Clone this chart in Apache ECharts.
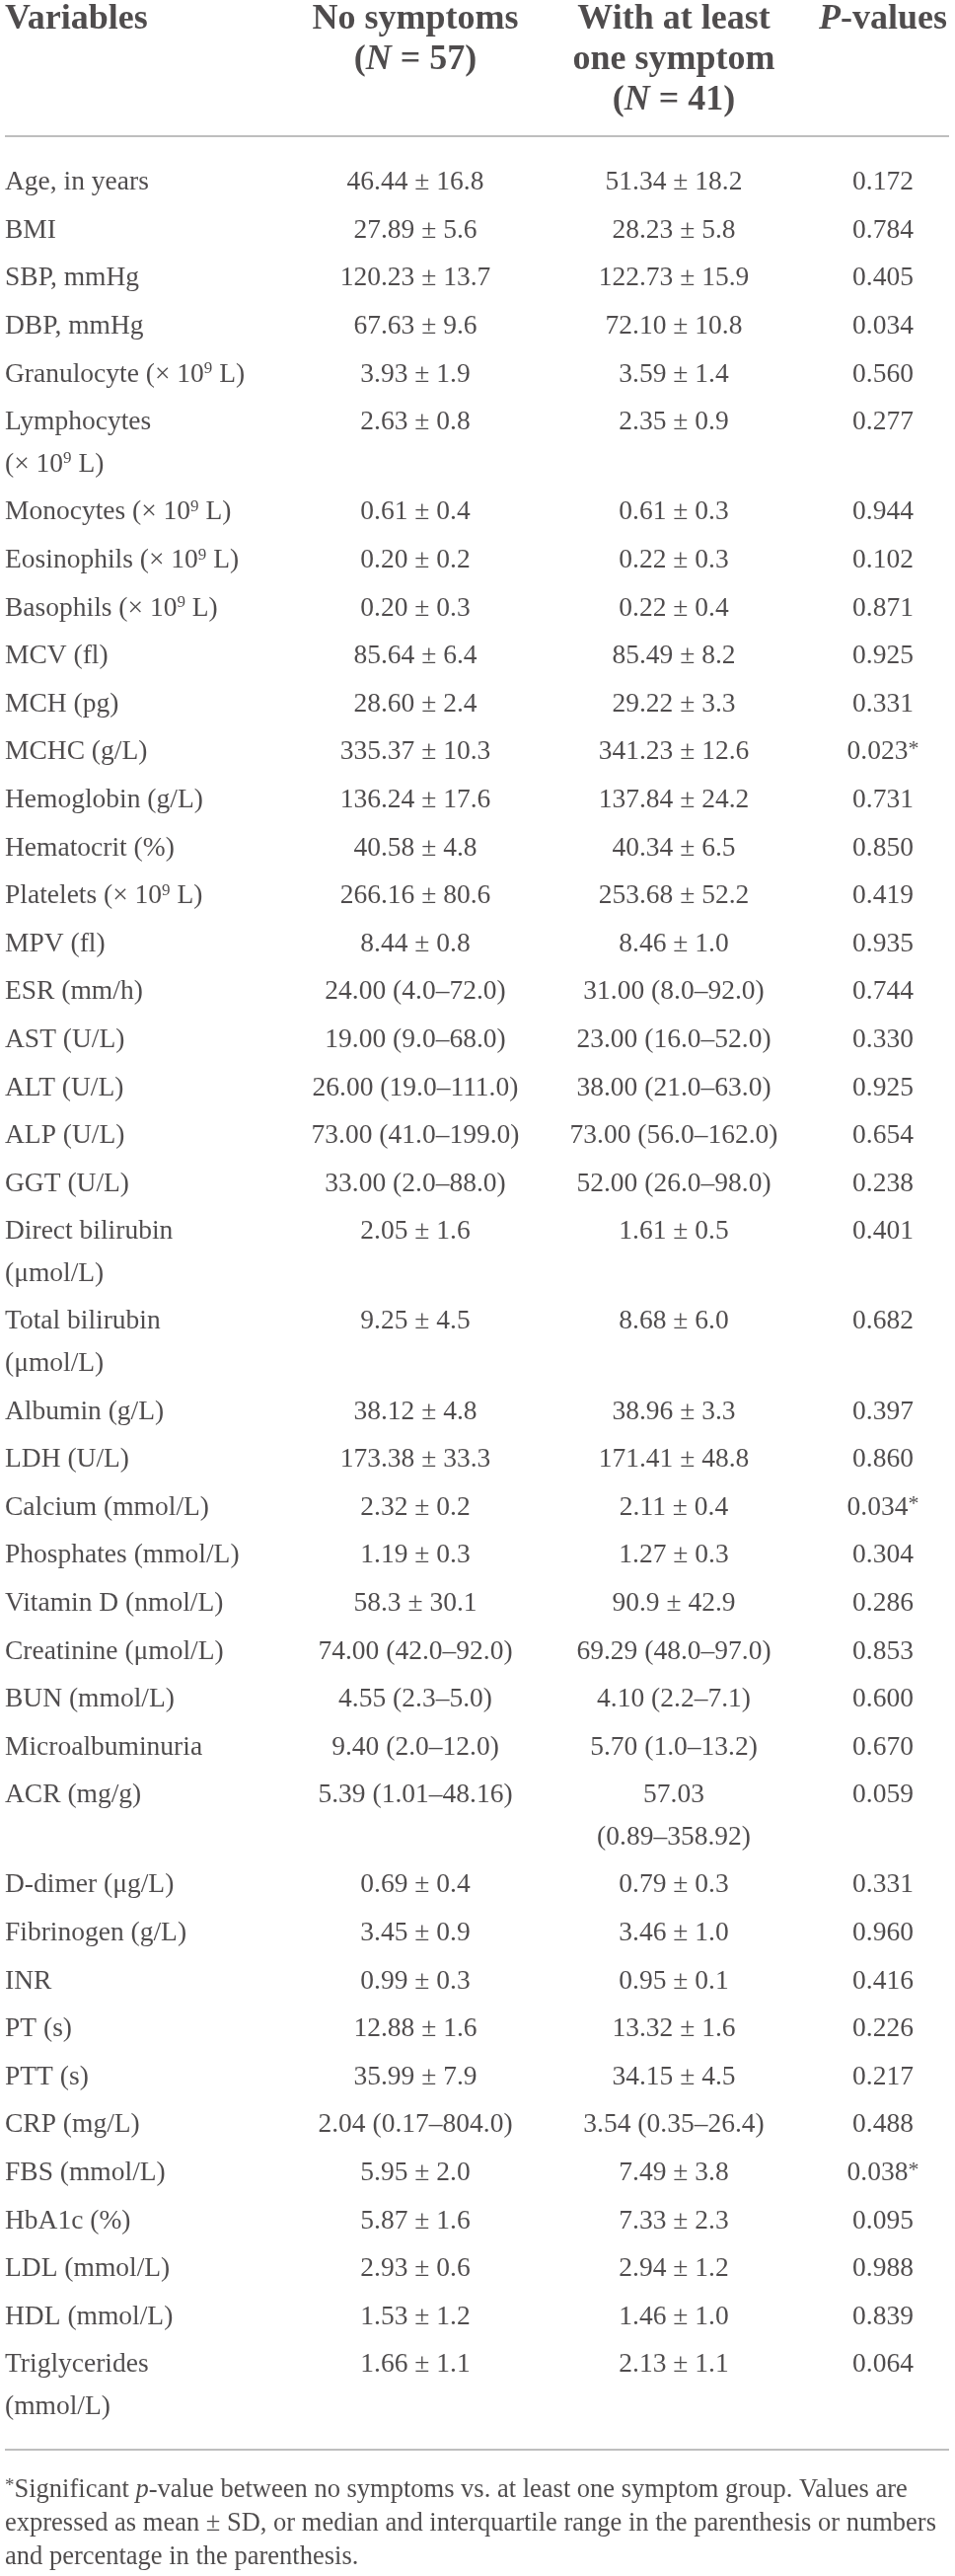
<!DOCTYPE html>
<html>
<head>
<meta charset="utf-8">
<script src="https://cdn.jsdelivr.net/npm/echarts@6/dist/echarts.min.js"></script>
<style>
  html, body { margin: 0; padding: 0; background: #fff; }
  #table-chart { width: 968px; height: 2610px; }
</style>
</head>
<body>
<div id="table-chart"></div>
<script>
// column headers ({ni|..} / {pi|..} = italic bold)
var headers = [
  "Variables",
  "No symptoms\n({ni|N} = 57)",
  "With at least\none symptom\n({ni|N} = 41)",
  "{pi|P}-values",
];

var variables = [
  "Age, in years",
  "BMI",
  "SBP, mmHg",
  "DBP, mmHg",
  "Granulocyte (× 10{sup|9} L)",
  "Lymphocytes\n(× 10{sup|9} L)",
  "Monocytes (× 10{sup|9} L)",
  "Eosinophils (× 10{sup|9} L)",
  "Basophils (× 10{sup|9} L)",
  "MCV (fl)",
  "MCH (pg)",
  "MCHC (g/L)",
  "Hemoglobin (g/L)",
  "Hematocrit (%)",
  "Platelets (× 10{sup|9} L)",
  "MPV (fl)",
  "ESR (mm/h)",
  "AST (U/L)",
  "ALT (U/L)",
  "ALP (U/L)",
  "GGT (U/L)",
  "Direct bilirubin\n(μmol/L)",
  "Total bilirubin\n(μmol/L)",
  "Albumin (g/L)",
  "LDH (U/L)",
  "Calcium (mmol/L)",
  "Phosphates (mmol/L)",
  "Vitamin D (nmol/L)",
  "Creatinine (μmol/L)",
  "BUN (mmol/L)",
  "Microalbuminuria",
  "ACR (mg/g)",
  "D-dimer (μg/L)",
  "Fibrinogen (g/L)",
  "INR",
  "PT (s)",
  "PTT (s)",
  "CRP (mg/L)",
  "FBS (mmol/L)",
  "HbA1c (%)",
  "LDL (mmol/L)",
  "HDL (mmol/L)",
  "Triglycerides\n(mmol/L)",
];

var noSymptoms = [
  "46.44 ± 16.8", "27.89 ± 5.6", "120.23 ± 13.7", "67.63 ± 9.6", "3.93 ± 1.9",
  "2.63 ± 0.8", "0.61 ± 0.4", "0.20 ± 0.2", "0.20 ± 0.3", "85.64 ± 6.4",
  "28.60 ± 2.4", "335.37 ± 10.3", "136.24 ± 17.6", "40.58 ± 4.8", "266.16 ± 80.6",
  "8.44 ± 0.8", "24.00 (4.0–72.0)", "19.00 (9.0–68.0)", "26.00 (19.0–111.0)", "73.00 (41.0–199.0)",
  "33.00 (2.0–88.0)", "2.05 ± 1.6", "9.25 ± 4.5", "38.12 ± 4.8", "173.38 ± 33.3",
  "2.32 ± 0.2", "1.19 ± 0.3", "58.3 ± 30.1", "74.00 (42.0–92.0)", "4.55 (2.3–5.0)",
  "9.40 (2.0–12.0)", "5.39 (1.01–48.16)", "0.69 ± 0.4", "3.45 ± 0.9", "0.99 ± 0.3",
  "12.88 ± 1.6", "35.99 ± 7.9", "2.04 (0.17–804.0)", "5.95 ± 2.0", "5.87 ± 1.6",
  "2.93 ± 0.6", "1.53 ± 1.2", "1.66 ± 1.1",
];

var withSymptom = [
  "51.34 ± 18.2", "28.23 ± 5.8", "122.73 ± 15.9", "72.10 ± 10.8", "3.59 ± 1.4",
  "2.35 ± 0.9", "0.61 ± 0.3", "0.22 ± 0.3", "0.22 ± 0.4", "85.49 ± 8.2",
  "29.22 ± 3.3", "341.23 ± 12.6", "137.84 ± 24.2", "40.34 ± 6.5", "253.68 ± 52.2",
  "8.46 ± 1.0", "31.00 (8.0–92.0)", "23.00 (16.0–52.0)", "38.00 (21.0–63.0)", "73.00 (56.0–162.0)",
  "52.00 (26.0–98.0)", "1.61 ± 0.5", "8.68 ± 6.0", "38.96 ± 3.3", "171.41 ± 48.8",
  "2.11 ± 0.4", "1.27 ± 0.3", "90.9 ± 42.9", "69.29 (48.0–97.0)", "4.10 (2.2–7.1)",
  "5.70 (1.0–13.2)", "57.03\n(0.89–358.92)", "0.79 ± 0.3", "3.46 ± 1.0", "0.95 ± 0.1",
  "13.32 ± 1.6", "34.15 ± 4.5", "3.54 (0.35–26.4)", "7.49 ± 3.8", "7.33 ± 2.3",
  "2.94 ± 1.2", "1.46 ± 1.0", "2.13 ± 1.1",
];

var pValues = [
  "0.172", "0.784", "0.405", "0.034", "0.560",
  "0.277", "0.944", "0.102", "0.871", "0.925",
  "0.331", "0.023{ast|*}", "0.731", "0.850", "0.419",
  "0.935", "0.744", "0.330", "0.925", "0.654",
  "0.238", "0.401", "0.682", "0.397", "0.860",
  "0.034{ast|*}", "0.304", "0.286", "0.853", "0.600",
  "0.670", "0.059", "0.331", "0.960", "0.416",
  "0.226", "0.217", "0.488", "0.038{ast|*}", "0.095",
  "0.988", "0.839", "0.064",
];

var footnote = [
  "{ast|*}Significant {it|p}-value between no symptoms vs. at least one symptom group. Values are",
  "expressed as mean ± SD, or median and interquartile range in the parenthesis or numbers",
  "and percentage in the parenthesis.",
];

// layout / style
var INK = "#231f20";
var RULE = "#a9a9a9";
var SERIF = '"Liberation Serif", "Times New Roman", serif';
var colX = [5, 421, 683, 895];
var colAlign = ["left", "center", "center", "center"];
var headTop = 20, headLine = 41;
var bodyTop = 185, rowStep = 48.6, subLine = 42.5;
var footTop = 2523, footLine = 34;

var bodyRich = {
  sup: { fontFamily: SERIF, fontSize: 17, color: INK, verticalAlign: "top" },
  ast: { fontFamily: SERIF, fontSize: 22, color: INK, verticalAlign: "top" },
};
var headRich = {
  ni: { fontFamily: SERIF, fontSize: 36, fontWeight: "bold", fontStyle: "italic", color: INK },
  pi: { fontFamily: SERIF, fontSize: 36, fontWeight: "bold", fontStyle: "italic", color: INK },
};
var footRich = {
  ast: { fontFamily: SERIF, fontSize: 19, color: INK, verticalAlign: "top" },
  it: { fontFamily: SERIF, fontSize: 26.5, fontStyle: "italic", color: INK },
};

// y of the first line of each body row
var rowY = [];
var extra = 0;
for (var i = 0; i < variables.length; i++) {
  rowY.push(bodyTop + i * rowStep + extra * subLine);
  var lines = Math.max(
    variables[i].split("\n").length,
    noSymptoms[i].split("\n").length,
    withSymptom[i].split("\n").length,
    pValues[i].split("\n").length
  );
  extra += lines - 1;
}
var lastRow = variables.length - 1;
var lastLineY = rowY[lastRow] + (variables[lastRow].split("\n").length - 1) * subLine;
var headRuleY = bodyTop - 47;
var footRuleY = lastLineY + 43;

function cellPoints(text, x, y, step) {
  return text.split("\n").map(function (t, k) {
    return { name: t, value: [x, y + k * step] };
  });
}

function textSeries(data, align, font, rich) {
  return {
    type: "scatter",
    symbolSize: 1,
    itemStyle: { color: "rgba(0,0,0,0)" },
    silent: true,
    clip: false,
    label: {
      show: true,
      position: "inside",
      align: align,
      verticalAlign: "middle",
      formatter: function (params) {
        return params.name;
      },
      fontFamily: SERIF,
      fontSize: font.size,
      fontWeight: font.weight || "normal",
      color: INK,
      rich: rich,
    },
    data: data,
  };
}

var columns = [variables, noSymptoms, withSymptom, pValues];
var series = [];

// header row
headers.forEach(function (h, c) {
  series.push(
    textSeries(cellPoints(h, colX[c], headTop, headLine), colAlign[c], { size: 36, weight: "bold" }, headRich)
  );
});

// body columns
columns.forEach(function (col, c) {
  var data = [];
  col.forEach(function (cell, i) {
    data = data.concat(cellPoints(cell, colX[c], rowY[i], subLine));
  });
  series.push(textSeries(data, colAlign[c], { size: 27.5 }, bodyRich));
});

// footnote
var footData = footnote.map(function (t, k) {
  return { name: t, value: [colX[0], footTop + k * footLine] };
});
series.push(textSeries(footData, "left", { size: 26.5 }, footRich));

// horizontal rules
series[0].markLine = {
  silent: true,
  symbol: ["none", "none"],
  label: { show: false },
  lineStyle: { color: RULE, width: 1.5, type: "solid" },
  data: [{ yAxis: headRuleY }, { yAxis: footRuleY }],
};

var chartDom = document.getElementById("table-chart");
var myChart = echarts.init(chartDom);
var option = {
  animation: false,
  backgroundColor: "#fff",
  grid: { left: 5, right: 6, top: 0, bottom: 0 },
  xAxis: { type: "value", min: 5, max: 962, show: false },
  yAxis: { type: "value", min: 0, max: 2610, inverse: true, show: false },
  series: series,
};
option && myChart.setOption(option);
</script>
</body>
</html>
